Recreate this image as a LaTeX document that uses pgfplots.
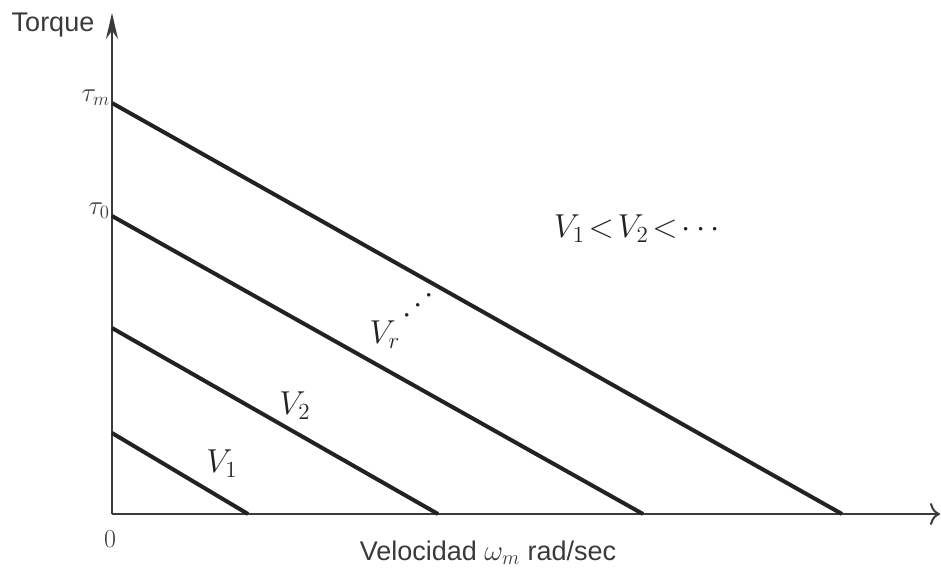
\documentclass[border=0pt]{standalone}
\usepackage{pgfplots}
\pgfplotsset{compat=1.18}
\usepackage{fontspec}
\setmainfont{Liberation Sans}
\usetikzlibrary{arrows.meta}
\definecolor{ink}{HTML}{222222}
\definecolor{axisink}{HTML}{3A3A3A}
% math labels are set at 20pt and then enlarged
\newcommand{\bigmath}[2][1.6]{\scalebox{#1}{\fontsize{20}{22}\selectfont$#2$}}
\begin{document}
\begin{tikzpicture}
\begin{axis}[
  anchor=origin, at={(0pt,0pt)},
  x=1pt, y=1pt,
  xmin=0, xmax=828, ymin=0, ymax=501,
  axis lines=left,
  x axis line style={line width=2pt, axisink, -{To[length=10pt,width=22pt,line width=2pt]}},
  y axis line style={line width=2pt, axisink, -{Stealth[length=26pt,width=12pt]}},
  xtick=\empty,
  ytick={298,411},
  yticklabels={\bigmath[1.3]{\tau_0},\bigmath[1.3]{\tau_m}},
  yticklabel style={text=axisink, inner sep=2pt, yshift=5pt},
  major tick length=0pt,
  clip=false,
]
% torque-speed lines for increasing rotor voltage
\addplot[ink, line width=4pt] coordinates {(0,81) (136,0)};
\addplot[ink, line width=4pt] coordinates {(0,186) (326,0)};
\addplot[ink, line width=4pt] coordinates {(0,298) (531,0)};
\addplot[ink, line width=4pt] coordinates {(0,411) (730,0)};

\node[text=ink] at (axis cs:110,50) {\bigmath{V_1}};
\node[text=ink] at (axis cs:183,108) {\bigmath{V_2}};
\node[text=ink, inner sep=0pt] at (axis cs:273,179) {\bigmath{V_r}};
\node[text=ink, rotate=43, inner sep=0pt] at (axis cs:307,208) {\bigmath{\cdots}};
\node[text=ink] at (axis cs:525,285) {\bigmath{V_1\!<\!V_2\!<\!\cdots}};

\node[text=axisink] at (axis cs:-2,-25) {\bigmath[1.25]{0}};
\node[font=\fontsize{27}{30}\selectfont, text=axisink] at (axis cs:-59,489) {Torque};
\node[font=\fontsize{27}{30}\selectfont, text=axisink] at (axis cs:376,-39)
  {Velocidad \bigmath[1.4]{\omega_m} rad/sec};
\end{axis}
\useasboundingbox (-112pt,-67pt) rectangle (829pt,514pt);
\end{tikzpicture}
\end{document}
